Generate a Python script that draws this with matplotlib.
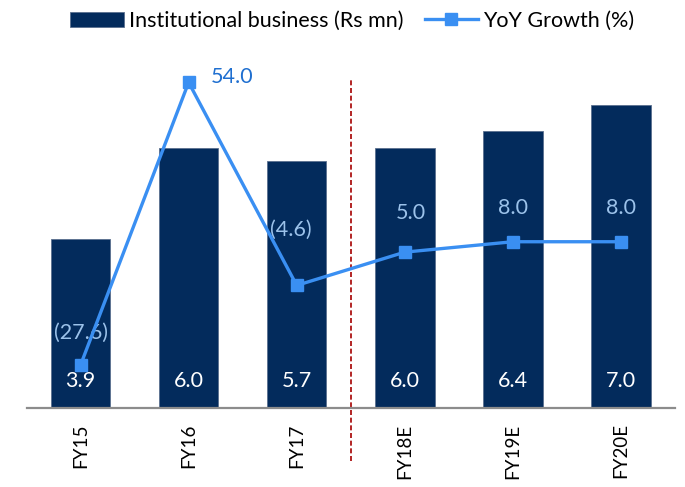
import matplotlib
matplotlib.use("Agg")
import matplotlib.pyplot as plt
import numpy as np

plt.rcParams['font.family'] = ['Lato', 'DejaVu Sans']

years = ['FY15', 'FY16', 'FY17', 'FY18E', 'FY19E', 'FY20E']
inst_business = [3.9, 6.0, 5.7, 6.0, 6.4, 7.0]
yoy_growth = [-27.6, 54.0, -4.6, 5.0, 8.0, 8.0]
growth_labels = ['(27.6)', '54.0', '(4.6)', '5.0', '8.0', '8.0']

navy = '#032B5C'
blue = '#3A8FF2'
fs = 15.5

fig = plt.figure(figsize=(6.85, 4.87), dpi=100)
ax = fig.add_axes([0.0387, 0.1622, 0.9467, 0.7113])
ax2 = ax.twinx()

x = np.arange(len(years))
bars = ax.bar(x, inst_business, width=0.55, color=navy, edgecolor='#5A6F8E',
              linewidth=0.6, label='Institutional business (Rs mn)', zorder=2)
for xi, v in zip(x, inst_business):
    ax.text(xi, 0.62, f'{v:.1f}', ha='center', va='center', color='white',
            fontsize=fs, zorder=3)

ax.set_xlim(-0.5, 5.5)
ax.set_ylim(0, 8)
ax2.set_ylim(-40, 60)

line, = ax2.plot(x, yoy_growth, color=blue, lw=2.4, marker='s', ms=8.5,
                 label='YoY Growth (%)', zorder=4)

# growth labels: offsets in points from the marker
offsets = [(0, 23), (16, 4), (-4, 40), (4, 28), (0, 24), (0, 24)]
for xi, v, lab, off in zip(x, yoy_growth, growth_labels, offsets):
    if lab == '54.0':
        ax2.annotate(lab, (xi, v), xytext=off, textcoords='offset points',
                     ha='left', va='center', color='#1F6FD0', fontsize=fs)
    else:
        ax2.annotate(lab, (xi, v), xytext=off, textcoords='offset points',
                     ha='center', va='center', color='#9CC2EA', fontsize=fs)

ax.axvline(2.5, ymin=-0.153, ymax=0.947, color='#A50000', lw=1.2,
           ls=(0, (3, 1.6)), clip_on=False, zorder=1)

for a in (ax, ax2):
    for s in ['top', 'right', 'left']:
        a.spines[s].set_visible(False)
    a.set_yticks([])
ax2.spines['bottom'].set_visible(False)
ax.spines['bottom'].set_color('#8C8C8C')
ax.spines['bottom'].set_linewidth(1.6)

ax.set_xticks(x)
ax.set_xticklabels(years, rotation=90, fontsize=13.5)
ax.tick_params(axis='x', length=0, pad=11)

fig.legend(handles=[bars, line], loc='center', bbox_to_anchor=(0.514, 0.957),
           ncol=2, frameon=False, fontsize=fs, handlelength=2.5,
           handleheight=0.7, handletextpad=0.2, columnspacing=1.0)

fig.savefig('out.png', dpi=100)
